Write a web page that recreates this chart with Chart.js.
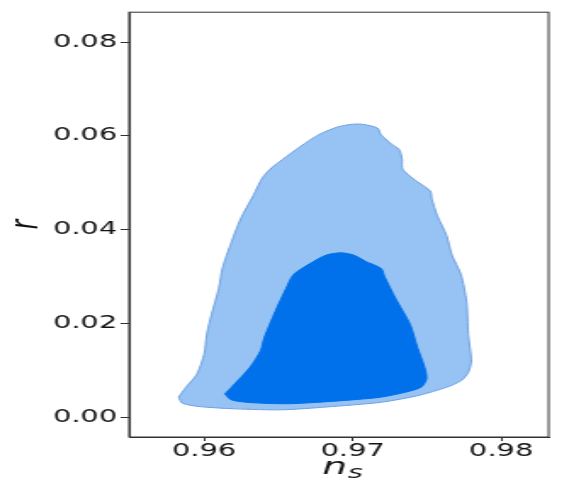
<!DOCTYPE html>
<html>
<head>
<meta charset="utf-8">
<script src="https://cdn.jsdelivr.net/npm/chart.js@4"></script>
<style>
html, body { margin: 0; padding: 0; background: #fff; overflow: hidden; }
/* la figura original esta estirada en horizontal */
#wrap { width: 335px; height: 490px; transform: scaleX(1.6985); transform-origin: 0 0; }
</style>
</head>
<body>
<div id="wrap"><canvas id="grafico"></canvas></div>
<script>
// contorno exterior (95%)
const outerNs = [0.95828, 0.95877, 0.95951, 0.96000, 0.96017, 0.96049, 0.96098, 0.96123, 0.96184, 0.96245,
  0.96331, 0.96393, 0.96454, 0.96528, 0.96650, 0.96773, 0.96896, 0.96994, 0.97067, 0.97166,
  0.97190, 0.97252, 0.97313, 0.97333, 0.97337, 0.97411, 0.97521, 0.97534, 0.97570, 0.97632,
  0.97669, 0.97730, 0.97767, 0.97779, 0.97799, 0.97779, 0.97730, 0.97632, 0.97436, 0.97190,
  0.96822, 0.96528, 0.96209, 0.95963, 0.95853, 0.95828];
const outerR = [0.0043, 0.0064, 0.0092, 0.0135, 0.0177, 0.0219, 0.0275, 0.0318, 0.0374, 0.0423,
  0.0473, 0.0511, 0.0532, 0.0550, 0.0578, 0.0603, 0.0619, 0.0625, 0.0625, 0.0617,
  0.0603, 0.0585, 0.0571, 0.0550, 0.0529, 0.0508, 0.0483, 0.0465, 0.0430, 0.0388,
  0.0346, 0.0304, 0.0247, 0.0177, 0.0120, 0.0096, 0.0078, 0.0064, 0.0046, 0.0032,
  0.0022, 0.0016, 0.0018, 0.0023, 0.0030, 0.0043];

// contorno interior (68%)
const innerNs = [0.96140, 0.96184, 0.96307, 0.96380, 0.96405, 0.96479, 0.96552, 0.96601, 0.96712, 0.96822,
  0.96920, 0.97006, 0.97092, 0.97190, 0.97215, 0.97288, 0.97387, 0.97436, 0.97485, 0.97497,
  0.97460, 0.97362, 0.97190, 0.96945, 0.96577, 0.96331, 0.96184, 0.96140];
const innerR = [0.0050, 0.0064, 0.0106, 0.0142, 0.0170, 0.0226, 0.0275, 0.0304, 0.0328, 0.0346,
  0.0351, 0.0346, 0.0332, 0.0318, 0.0300, 0.0254, 0.0198, 0.0149, 0.0106, 0.0082,
  0.0064, 0.0054, 0.0043, 0.0036, 0.0029, 0.0031, 0.0037, 0.0050];

const nsTicks = [0.96, 0.97, 0.98];
const rTicks = [0.00, 0.02, 0.04, 0.06, 0.08];

function puntos(xs, ys) {
    return xs.map((x, i) => ({ x: x, y: ys[i] }));
}

// marco completo alrededor del area del grafico
const marco = {
    id: 'marco',
    afterDatasetsDraw(chart) {
        const { ctx, chartArea: a } = chart;
        ctx.save();
        ctx.strokeStyle = '#333';
        ctx.lineWidth = 1;
        ctx.strokeRect(a.left, a.top, a.right - a.left, a.bottom - a.top);
        ctx.restore();
    }
};

// titulo del eje x con subindice: n_s
const tituloX = {
    id: 'tituloX',
    afterDraw(chart) {
        const { ctx, chartArea: a } = chart;
        ctx.save();
        ctx.fillStyle = '#111';
        ctx.textBaseline = 'alphabetic';
        ctx.font = 'italic 23px "DejaVu Sans"';
        const wn = ctx.measureText('n').width;
        ctx.font = 'italic 17px "DejaVu Sans"';
        const ws = ctx.measureText('s').width;
        const x0 = (a.left + a.right) / 2 - (wn + ws) / 2 + 2;
        ctx.font = 'italic 23px "DejaVu Sans"';
        ctx.fillText('n', x0, 474);
        ctx.font = 'italic 17px "DejaVu Sans"';
        ctx.fillText('s', x0 + wn + 0.5, 478);
        ctx.restore();
    }
};

const tickFont = { family: 'DejaVu Sans', size: 17 };
const titleFont = { family: 'DejaVu Sans', size: 23, style: 'italic' };

const ctx = document.getElementById('grafico').getContext('2d');
new Chart(ctx, {
    type: 'scatter',
    data: {
        datasets: [{
            label: '68%',
            data: puntos(innerNs, innerR),
            showLine: true,
            fill: 'shape',
            tension: 0.25,
            backgroundColor: 'rgb(0, 112, 235)',
            borderColor: 'rgb(0, 112, 235)',
            borderWidth: 1,
            pointRadius: 0
        }, {
            label: '95%',
            data: puntos(outerNs, outerR),
            showLine: true,
            fill: 'shape',
            tension: 0.25,
            backgroundColor: 'rgb(151, 195, 244)',
            borderColor: 'rgb(110, 160, 225)',
            borderWidth: 1,
            pointRadius: 0
        }]
    },
    options: {
        responsive: true,
        maintainAspectRatio: false,
        animation: false,
        layout: { padding: { top: 9, right: 12, left: 0, bottom: 0 } },
        plugins: { legend: { display: false }, tooltip: { enabled: false } },
        scales: {
            x: {
                type: 'linear',
                min: 0.95494,
                max: 0.98320,
                afterBuildTicks: s => { s.ticks = nsTicks.map(v => ({ value: v })); },
                afterFit: s => { s.height = 53; },
                ticks: { font: tickFont, color: '#111', padding: 0, callback: v => v.toFixed(2) },
                grid: { drawOnChartArea: false, tickLength: 4, color: '#333' },
                border: { color: '#333', width: 1 },
                title: { display: false }
            },
            y: {
                type: 'linear',
                min: -0.0042,
                max: 0.0864,
                afterBuildTicks: s => { s.ticks = rTicks.map(v => ({ value: v })); },
                afterFit: s => { s.width = 76; },
                ticks: { font: tickFont, color: '#111', padding: 2, callback: v => v.toFixed(2) },
                grid: { drawOnChartArea: false, tickLength: 5, color: '#333' },
                border: { color: '#333', width: 1 },
                title: { display: true, text: 'r', font: titleFont, color: '#111', padding: { top: 2, bottom: 0 } }
            }
        }
    },
    plugins: [marco, tituloX]
});
</script>
</body>
</html>
